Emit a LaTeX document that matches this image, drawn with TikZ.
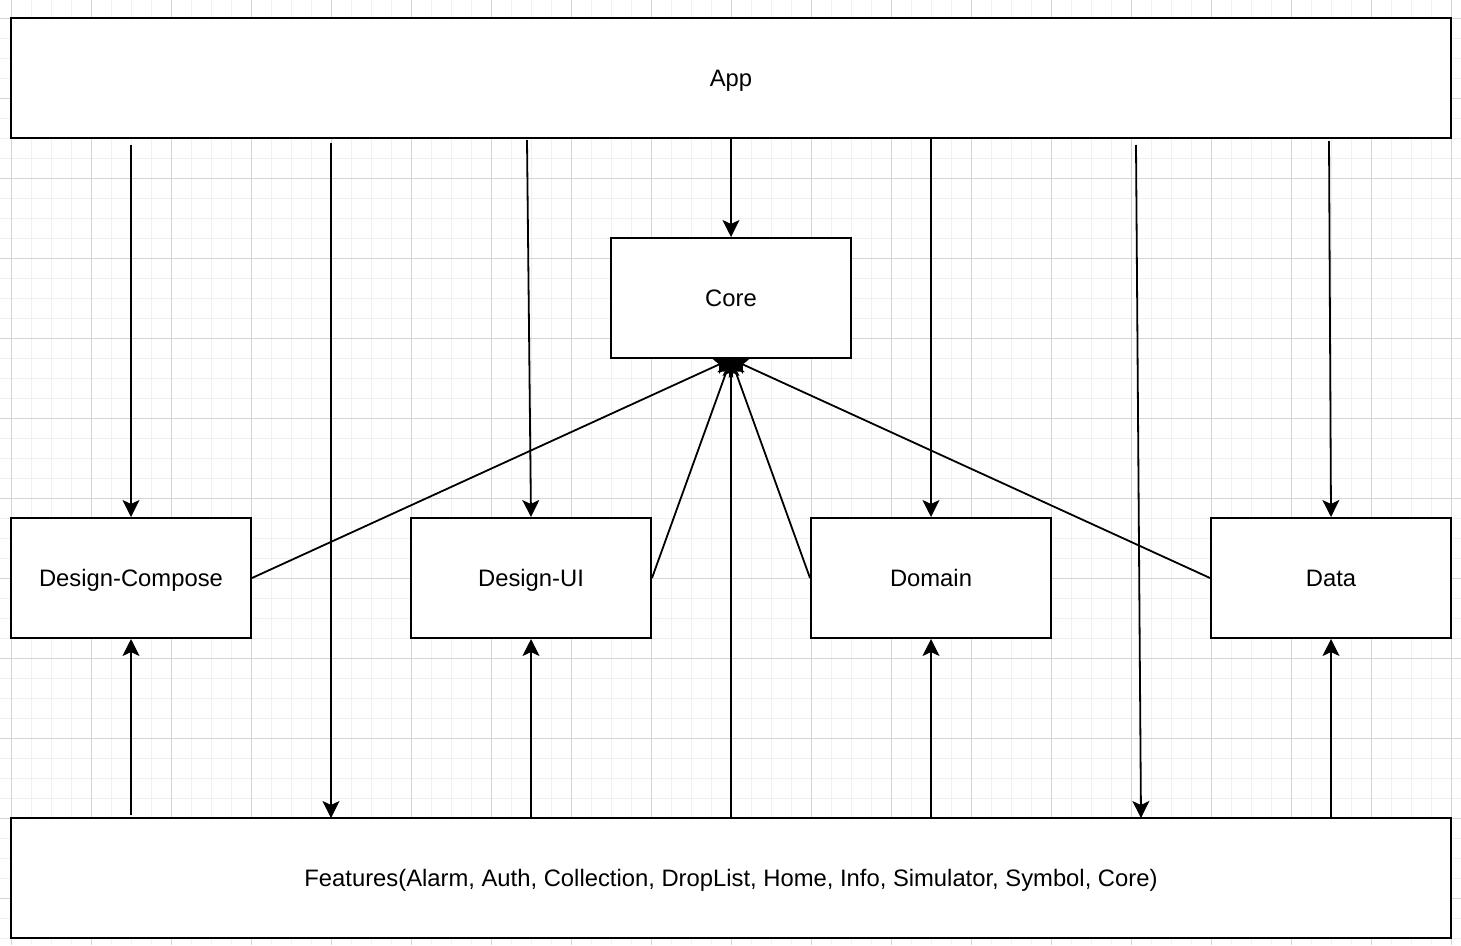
\documentclass[tikz,border=0pt]{standalone}
\usepackage{fontspec}
\setmainfont{Liberation Sans}
\usetikzlibrary{arrows.meta}
\begin{document}
\begin{tikzpicture}[x=1pt,y=-1pt,
  box/.style={draw=black,line width=2pt,fill=white,inner sep=0pt,text height=17pt,text depth=0pt,font=\fontsize{23.8}{28}\selectfont},
  arr/.style={line width=1.8pt,-{Stealth[length=17pt,width=17pt,inset=4pt]}},
  ]
\useasboundingbox (0,0) rectangle (1461,945);
\fill[white] (0,0) rectangle (1461,945);
% grid
\foreach \x in {-9,11,...,1461} \draw[line width=0.8pt,black!6] (\x,0) -- (\x,945);
\foreach \y in {-2,18,...,945} \draw[line width=0.8pt,black!6] (0,\y) -- (1461,\y);
\foreach \x in {11,91,...,1461} \draw[line width=0.8pt,black!17] (\x,0) -- (\x,945);
\foreach \y in {18,98,...,945} \draw[line width=0.8pt,black!17] (0,\y) -- (1461,\y);
% nodes
\node[box,minimum width=1440pt,minimum height=120pt] (app) at (731,78) {App};
\node[box,minimum width=240pt,minimum height=120pt] (core) at (731,298) {Core};
\node[box,minimum width=240pt,minimum height=120pt] (dc) at (131,578) {Design-Compose};
\node[box,minimum width=240pt,minimum height=120pt] (dui) at (531,578) {Design-UI};
\node[box,minimum width=240pt,minimum height=120pt] (dom) at (931,578) {Domain};
\node[box,minimum width=240pt,minimum height=120pt] (data) at (1331,578) {Data};
\node[box,minimum width=1440pt,minimum height=120pt] (feat) at (731,878) {Features(Alarm, Auth, Collection, DropList, Home, Info, Simulator, Symbol, Core)};
% free ends
\coordinate (a1) at (131,145);
\coordinate (a2) at (331,143);
\coordinate (a3) at (527,140);
\coordinate (a5) at (931,139);
\coordinate (a6) at (1136,145);
\coordinate (a7) at (1329,141);
\coordinate (f1) at (131,815);
\coordinate (t2) at (331,818);
\coordinate (t6) at (1141,818);
% App arrows
\draw[arr] (a1) -- (dc.north);
\draw[arr] (a2) -- (t2);
\draw[arr] (a3) -- (dui.north);
\draw[arr] (app.south) -- (core.north);
\draw[arr] (a5) -- (dom.north);
\draw[arr] (a6) -- (t6);
\draw[arr] (a7) -- (data.north);
% Features arrows
\draw[arr] (f1) -- (dc.south);
\draw[arr] (feat.north -| dui.south) -- (dui.south);
\draw[arr] (feat.north -| dom.south) -- (dom.south);
\draw[arr] (feat.north -| data.south) -- (data.south);
\draw[arr] (feat.north) -- (core.south);
% to core
\draw[arr] (dc.east) -- (core.south);
\draw[arr] (dui.east) -- (core.south);
\draw[arr] (dom.west) -- (core.south);
\draw[arr] (data.west) -- (core.south);
\end{tikzpicture}
\end{document}
